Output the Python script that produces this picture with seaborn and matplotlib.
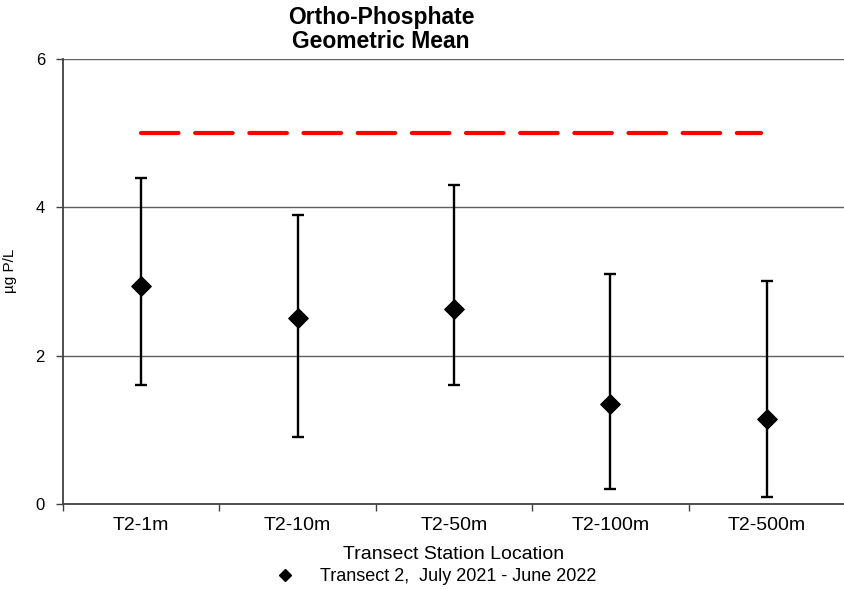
import numpy as np
import pandas as pd
import seaborn as sns
from matplotlib import pyplot as plt
from matplotlib.lines import Line2D

sns.set_style("white")
plt.rcParams['font.family'] = ['Liberation Sans', 'DejaVu Sans']
plt.rcParams['text.color'] = 'black'
plt.rcParams['axes.labelcolor'] = 'black'
plt.rcParams['xtick.color'] = 'black'
plt.rcParams['ytick.color'] = 'black'

stations = ['T2-1m', 'T2-10m', 'T2-50m', 'T2-100m', 'T2-500m']
geo_mean = [2.94, 2.51, 2.63, 1.35, 1.14]
err_low = [1.6, 0.9, 1.6, 0.2, 0.1]
err_high = [4.4, 3.9, 4.3, 3.1, 3.0]
criterion = 5.0

dados = pd.DataFrame({'station': stations, 'mean': geo_mean,
                      'low': err_low, 'high': err_high})
dados['x'] = np.arange(len(stations))

fig = plt.figure(figsize=(8.45, 5.89), dpi=100)
ax = fig.add_axes([0.0746, 0.1443, 0.9254, 0.7557])

# gridlines
for yv in [2, 4, 6]:
    ax.axhline(yv, color='#606060', lw=1, zorder=0)

# criterion line
ax.plot([0, 3.96], [criterion, criterion], color='#ff0000', lw=3,
        dashes=(9, 4), dash_capstyle='round', zorder=2)

# error bars
ax.errorbar(dados['x'], dados['mean'],
            yerr=[dados['mean'] - dados['low'], dados['high'] - dados['mean']],
            fmt='none', ecolor='black', elinewidth=1.7, capsize=4.5, capthick=1.7,
            zorder=3)

sns.scatterplot(data=dados, x='x', y='mean', marker='D', s=100,
                color='black', edgecolor='black', ax=ax, zorder=4, legend=False)

ax.set_xlim(-0.5, 4.5)
ax.set_ylim(0, 6)
ax.set_yticks([0, 2, 4, 6])
ax.set_xticks(dados['x'])
ax.set_xticklabels(stations, fontsize=14)
ax.set_xticks(np.arange(-0.5, 4.5, 1), minor=True)
ax.tick_params(axis='x', which='major', length=0, pad=9)
ax.tick_params(axis='x', which='minor', length=5, width=1, color='#404040',
               direction='out')
ax.tick_params(axis='y', length=5, width=1, color='#404040', direction='out',
               labelsize=12, pad=8)
ax.yaxis.set_ticks_position('left')
ax.xaxis.set_ticks_position('bottom')

for s in ['top', 'right']:
    ax.spines[s].set_visible(False)
for s in ['left', 'bottom']:
    ax.spines[s].set_color('#404040')
    ax.spines[s].set_linewidth(1.3)

ax.set_xlabel('Transect Station Location', fontsize=14, labelpad=9)
ax.set_ylabel('µg P/L', fontsize=11)
ax.yaxis.set_label_coords(-0.059, 0.524)
fig.text(381 / 845, 1 - 6 / 589, 'Ortho-Phosphate\nGeometric Mean',
         fontsize=16.5, fontweight='bold', ha='center', va='top',
         linespacing=1.08)

handle = Line2D([], [], marker='D', color='black', ls='none', markersize=6)
fig.legend([handle], ['Transect 2,  July 2021 - June 2022'], loc='lower center',
           bbox_to_anchor=(0.511, -0.021), frameon=False, fontsize=13,
           handletextpad=0.95)

fig.savefig('out.png', dpi=100)
